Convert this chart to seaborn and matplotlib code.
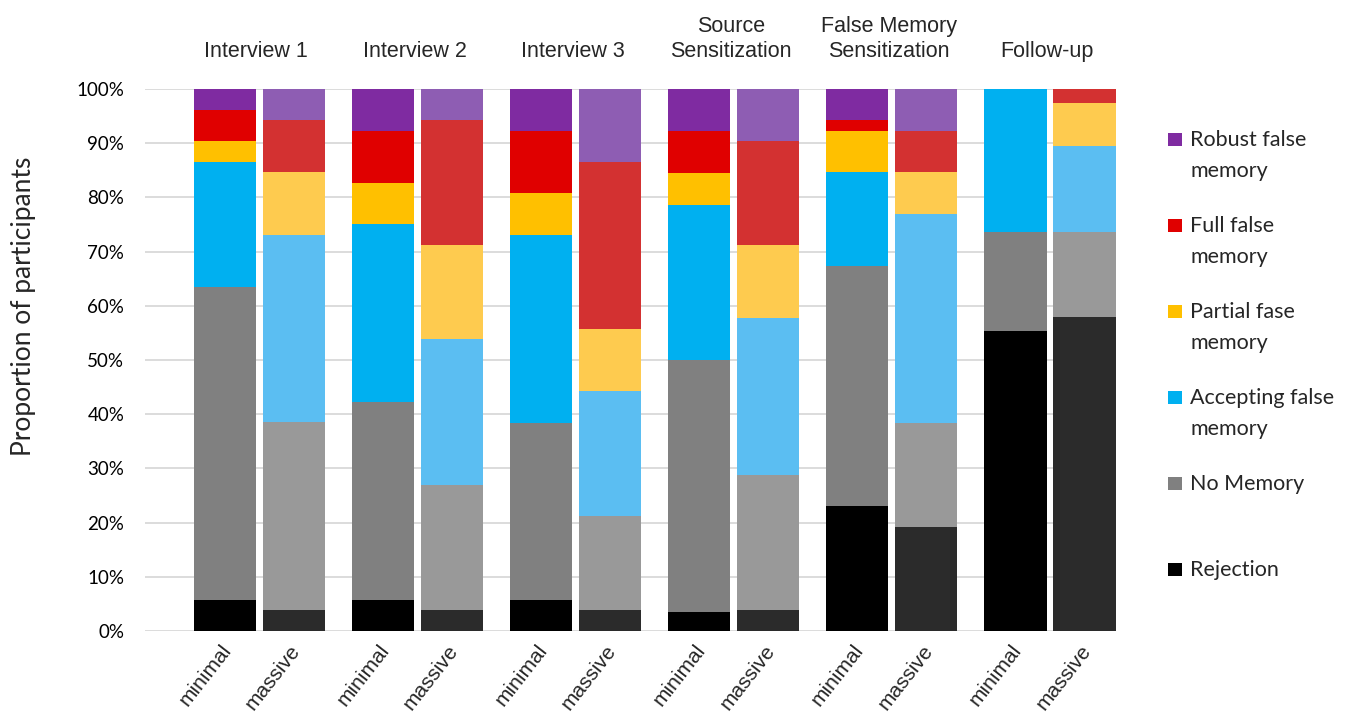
import numpy as np
import pandas as pd
import matplotlib
matplotlib.use("Agg")
import matplotlib.pyplot as plt
from matplotlib.patches import Rectangle
from matplotlib.transforms import blended_transform_factory, ScaledTranslation
import seaborn as sns

# ---------------- data ----------------
groups = ["Interview 1", "Interview 2", "Interview 3",
          "Source\nSensitization", "False Memory\nSensitization", "Follow-up"]
conditions = ["minimal", "massive"]

# percentages, order: (group1 minimal, group1 massive, group2 minimal, ...)
rejection = [5.77, 3.85, 5.77, 3.85, 5.77, 3.85, 3.57, 3.85, 23.08, 19.23, 55.26, 57.89]
no_memory = [57.69, 34.62, 36.54, 23.08, 32.69, 17.31, 46.43, 25.00, 44.23, 19.23, 18.42, 15.79]
accepting = [23.08, 34.62, 32.69, 26.92, 34.62, 23.08, 28.57, 28.85, 17.31, 38.46, 26.32, 15.79]
partial = [3.85, 11.54, 7.69, 17.31, 7.69, 11.54, 5.95, 13.46, 7.69, 7.69, 0.0, 7.89]
full = [5.77, 9.62, 9.62, 23.08, 11.54, 30.77, 7.69, 19.23, 1.92, 7.69, 0.0, 2.63]
robust = [3.85, 5.77, 7.69, 5.77, 7.69, 13.46, 7.79, 9.62, 5.77, 7.69, 0.0, 0.0]

categories = ["Rejection", "No Memory", "Accepting false\nmemory",
              "Partial fase\nmemory", "Full false\nmemory", "Robust false\nmemory"]
yticks = [0, 10, 20, 30, 40, 50, 60, 70, 80, 90, 100]

# ---------------- styles ----------------
colors_minimal = ["#000000", "#808080", "#00B0F0", "#FFC000", "#E00000", "#7F2BA1"]
colors_massive = ["#2B2B2B", "#999999", "#5BBEF2", "#FECB4F", "#D33131", "#8E5DB3"]

W, H = 1348, 713
sns.set_theme(style="white")
plt.rcParams["font.family"] = ["Lato", "DejaVu Sans"]
ARIAL = ["Liberation Sans", "DejaVu Sans"]

fig = plt.figure(figsize=(W / 100, H / 100), dpi=100)
ax_left, ax_right, ax_top, ax_bot = 145, 1094, 89, 631
ax = fig.add_axes([ax_left / W, 1 - ax_bot / H, (ax_right - ax_left) / W, (ax_bot - ax_top) / H])

series = [rejection, no_memory, accepting, partial, full, robust]
cum = np.cumsum(np.array(series), axis=0)

df = pd.DataFrame({
    "group": np.repeat(groups, 2),
    "condition": conditions * len(groups),
})
for k in range(len(categories)):
    df[f"cum{k}"] = cum[k]

total_width = 0.873
for k in range(len(categories) - 1, -1, -1):
    sns.barplot(data=df, x="group", y=f"cum{k}", hue="condition",
                order=groups, hue_order=conditions,
                palette={"minimal": colors_minimal[k], "massive": colors_massive[k]},
                width=total_width, gap=0.1, saturation=1, errorbar=None,
                legend=False, linewidth=0, ax=ax)

for p in ax.patches:
    p.set_clip_on(False)
    p.set_zorder(2)

ax.set_xlim(-(259.5 - ax_left) / 158.1, 5 + (ax_right - 1050) / 158.1)
ax.set_ylim(0, 100)

# grid
ax.set_axisbelow(True)
ax.yaxis.grid(True, color="#D9D9D9", linewidth=1.3)
ax.xaxis.grid(False)
for s in ax.spines.values():
    s.set_visible(False)

ax.set_yticks(yticks)
ax.set_yticklabels([f"{t}%" for t in yticks], fontsize=13.5, color="#000000")
ax.tick_params(axis="y", length=0, pad=15)

# x tick labels at bar centres
slot = total_width / 2
xt, xl = [], []
for i in range(len(groups)):
    for j, c in enumerate(conditions):
        xt.append(i + (j - 0.5) * slot)
        xl.append(c)
ax.set_xticks(xt)
ax.set_xticklabels(xl, rotation=52, ha="right", va="baseline", rotation_mode="anchor",
                   fontsize=15, family=ARIAL)
ax.tick_params(axis="x", length=0, pad=14)
for lab in ax.get_xticklabels():
    lab.set_transform(lab.get_transform() + ScaledTranslation(7 / 100, 0, fig.dpi_scale_trans))
ax.set_xlabel("")
ax.set_ylabel("")

# group titles
tr = blended_transform_factory(ax.transData, ax.transAxes)
for i, g in enumerate(groups):
    ax.text(i - 0.02, 1 + 27 / (ax_bot - ax_top), g, transform=tr, ha="center", va="bottom",
            fontsize=15.5, linespacing=1.22, family=ARIAL)

# y label
fig.text(24 / W, 1 - 306 / H, "Proportion of participants", rotation=90,
         ha="center", va="center", fontsize=19)

# legend
legend_order = list(range(len(categories) - 1, -1, -1))
for n, k in enumerate(legend_order):
    base = 146 + n * 86
    fig.patches.append(Rectangle((1168 / W, 1 - base / H), 14 / W, 13 / H,
                                 transform=fig.transFigure, facecolor=colors_minimal[k],
                                 edgecolor="none"))
    for li, line in enumerate(categories[k].split("\n")):
        fig.text(1190 / W, 1 - (base + li * 31) / H, line, ha="left", va="baseline",
                 fontsize=15.5)

fig.savefig("out.png", dpi=100)
